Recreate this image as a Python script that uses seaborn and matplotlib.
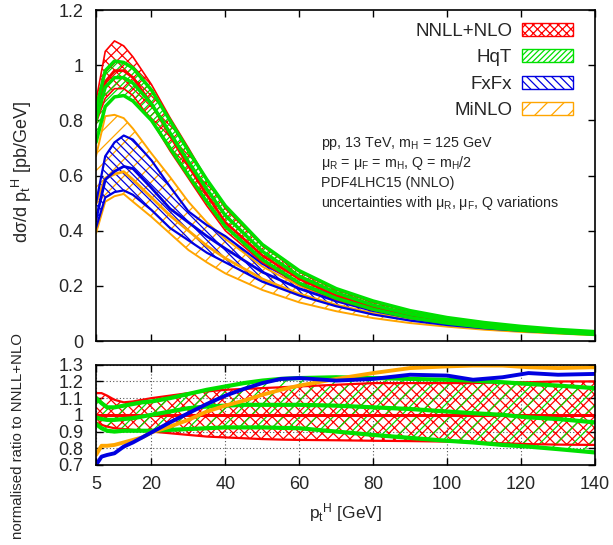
import numpy as np
import pandas as pd
import seaborn as sns
import matplotlib.pyplot as plt
from matplotlib.patches import Patch

# ---- upper panel: d sigma / d pt [pb/GeV] ----
pt_up = [5, 7.5, 10, 12.5, 15, 20, 25, 30, 35, 40, 50, 60, 70, 80, 90, 100, 110, 120, 130, 140]

nnll_c = [0.83, 0.94, 0.98, 0.98, 0.955, 0.86, 0.745, 0.635, 0.53, 0.43, 0.31, 0.225, 0.165, 0.125, 0.095, 0.074, 0.058, 0.046, 0.037, 0.030]
nnll_hi = [0.87, 1.05, 1.088, 1.07, 1.03, 0.93, 0.81, 0.70, 0.585, 0.48, 0.345, 0.25, 0.185, 0.14, 0.106, 0.083, 0.065, 0.052, 0.042, 0.034]
nnll_lo = [0.79, 0.88, 0.915, 0.915, 0.89, 0.80, 0.69, 0.59, 0.49, 0.40, 0.285, 0.205, 0.15, 0.112, 0.085, 0.066, 0.051, 0.040, 0.032, 0.026]

hqt_hi = [0.84, 0.98, 1.015, 1.01, 0.99, 0.91, 0.80, 0.69, 0.585, 0.49, 0.35, 0.255, 0.19, 0.145, 0.11, 0.085, 0.067, 0.053, 0.042, 0.034]
hqt_c = [0.80, 0.92, 0.955, 0.955, 0.935, 0.86, 0.755, 0.65, 0.55, 0.455, 0.325, 0.235, 0.175, 0.13, 0.098, 0.076, 0.059, 0.046, 0.037, 0.029]
hqt_lo = [0.72, 0.85, 0.885, 0.89, 0.87, 0.80, 0.70, 0.60, 0.505, 0.415, 0.295, 0.21, 0.155, 0.115, 0.085, 0.065, 0.05, 0.039, 0.031, 0.024]

fxfx_hi = [0.50, 0.67, 0.72, 0.745, 0.73, 0.655, 0.56, 0.47, 0.42, 0.38, 0.28, 0.21, 0.16, 0.12, 0.092, 0.072, 0.056, 0.045, 0.036, 0.029]
fxfx_c = [0.44, 0.585, 0.615, 0.633, 0.625, 0.555, 0.48, 0.43, 0.38, 0.335, 0.25, 0.19, 0.145, 0.11, 0.085, 0.066, 0.052, 0.042, 0.034, 0.027]
fxfx_lo = [0.41, 0.52, 0.54, 0.546, 0.53, 0.475, 0.41, 0.365, 0.32, 0.285, 0.215, 0.165, 0.126, 0.096, 0.074, 0.058, 0.046, 0.037, 0.030, 0.024]

minlo_hi = [0.67, 0.815, 0.82, 0.808, 0.77, 0.68, 0.595, 0.505, 0.43, 0.37, 0.27, 0.20, 0.15, 0.115, 0.088, 0.069, 0.054, 0.043, 0.034, 0.028]
minlo_c = [0.50, 0.59, 0.605, 0.614, 0.585, 0.52, 0.455, 0.40, 0.345, 0.30, 0.225, 0.17, 0.13, 0.10, 0.078, 0.062, 0.049, 0.039, 0.031, 0.025]
minlo_lo = [0.39, 0.505, 0.525, 0.533, 0.505, 0.45, 0.39, 0.33, 0.285, 0.245, 0.185, 0.14, 0.108, 0.083, 0.065, 0.052, 0.041, 0.033, 0.027, 0.021]

# ---- lower panel: normalised ratio to NNLL+NLO ----
pt_r = [5, 6.5, 8, 10, 12.5, 15, 17.5, 20, 25, 30, 35, 40, 45, 50, 55, 60, 70, 80, 90, 100, 107, 115, 122, 130, 140]

r_nnll_hi = [1.13, 1.13, 1.115, 1.09, 1.075, 1.08, 1.09, 1.10, 1.115, 1.13, 1.14, 1.15, 1.155, 1.16, 1.165, 1.17, 1.18, 1.19, 1.19, 1.19, 1.19, 1.195, 1.195, 1.2, 1.2]
r_nnll_lo = [0.955, 0.94, 0.93, 0.92, 0.915, 0.91, 0.905, 0.9, 0.89, 0.88, 0.87, 0.865, 0.86, 0.855, 0.852, 0.85, 0.848, 0.845, 0.843, 0.84, 0.835, 0.83, 0.825, 0.822, 0.82]
r_hqt_hi = [1.10, 1.07, 1.045, 1.045, 1.055, 1.065, 1.075, 1.08, 1.10, 1.125, 1.15, 1.17, 1.19, 1.205, 1.215, 1.22, 1.225, 1.22, 1.215, 1.21, 1.205, 1.195, 1.185, 1.175, 1.16]
r_hqt_c = [0.985, 0.975, 0.97, 0.97, 0.975, 0.98, 0.99, 1.0, 1.02, 1.04, 1.05, 1.055, 1.06, 1.06, 1.06, 1.06, 1.055, 1.045, 1.035, 1.02, 1.01, 1.0, 0.985, 0.975, 0.955]
r_hqt_lo = [0.945, 0.92, 0.905, 0.90, 0.905, 0.905, 0.905, 0.905, 0.91, 0.915, 0.92, 0.925, 0.925, 0.925, 0.922, 0.92, 0.90, 0.88, 0.862, 0.845, 0.835, 0.82, 0.81, 0.795, 0.775]
r_fxfx = [0.70, 0.75, 0.76, 0.77, 0.81, 0.835, 0.865, 0.895, 0.955, 1.01, 1.065, 1.115, 1.155, 1.19, 1.215, 1.22, 1.205, 1.215, 1.24, 1.235, 1.21, 1.225, 1.25, 1.24, 1.245]
r_minlo = [0.76, 0.815, 0.815, 0.82, 0.835, 0.85, 0.865, 0.895, 0.93, 0.97, 1.02, 1.055, 1.085, 1.12, 1.15, 1.175, 1.215, 1.25, 1.28, 1.29, 1.295, 1.295, 1.285, 1.28, 1.285]

RED, GREEN, BLUE, ORANGE = "#ff0000", "#00e000", "#0000e0", "#ffa500"

sns.set_style("ticks")
plt.rcParams["font.family"] = ["Liberation Sans", "DejaVu Sans"]
plt.rcParams["mathtext.default"] = "regular"
plt.rcParams["hatch.linewidth"] = 0.9

fig = plt.figure(figsize=(6.13, 5.45), dpi=100)
ax = fig.add_axes([0.1566, 0.3743, 0.814, 0.6073])
axr = fig.add_axes([0.1566, 0.1468, 0.814, 0.184])


def band(a, x, lo, hi, color, hatch, lw):
    a.fill_between(x, lo, hi, facecolor="none", edgecolor=color, hatch=hatch, linewidth=0)
    for y in (lo, hi):
        sns.lineplot(x=x, y=y, ax=a, color=color, lw=lw, legend=False)


# upper panel
band(ax, pt_up, minlo_lo, minlo_hi, ORANGE, "//", 1.4)
sns.lineplot(x=pt_up, y=minlo_c, ax=ax, color=ORANGE, lw=2.0)
band(ax, pt_up, fxfx_lo, fxfx_hi, BLUE, "\\\\\\\\", 1.6)
sns.lineplot(x=pt_up, y=fxfx_c, ax=ax, color=BLUE, lw=2.0)
band(ax, pt_up, nnll_lo, nnll_hi, RED, "xxx", 1.2)
sns.lineplot(x=pt_up, y=nnll_c, ax=ax, color=RED, lw=2.0)
band(ax, pt_up, hqt_lo, hqt_hi, GREEN, "/////", 2.5)
sns.lineplot(x=pt_up, y=hqt_c, ax=ax, color=GREEN, lw=2.5)

ax.set_xlim(5, 140)
ax.set_ylim(0, 1.2)
ax.set_xticks([5, 20, 40, 60, 80, 100, 120, 140])
ax.set_xticklabels([])
ax.set_yticks([0, 0.2, 0.4, 0.6, 0.8, 1.0, 1.2])
ax.set_yticklabels(["0", "0.2", "0.4", "0.6", "0.8", "1", "1.2"])
ax.set_xlabel("")
ax.set_ylabel("")

handles = [
    Patch(facecolor="white", edgecolor=RED, hatch="xxxx", label="NNLL+NLO"),
    Patch(facecolor="white", edgecolor=GREEN, hatch="//////", label="HqT"),
    Patch(facecolor="white", edgecolor=BLUE, hatch="\\\\\\\\", label="FxFx"),
    Patch(facecolor="white", edgecolor=ORANGE, hatch="//", label="MiNLO"),
]
ax.legend(handles=handles, loc="upper right", bbox_to_anchor=(0.956, 0.962),
          frameon=False, markerfirst=False, fontsize=13.5, handlelength=2.7,
          handleheight=0.7, handletextpad=0.55, labelspacing=0.5,
          borderpad=0, borderaxespad=0)

info = [
    "pp, 13 TeV, m$_H$ = 125 GeV",
    "μ$_R$ = μ$_F$ = m$_H$, Q = m$_H$/2",
    "PDF4LHC15 (NNLO)",
    "uncertainties with μ$_R$, μ$_F$, Q variations",
]
for i, s in enumerate(info):
    ax.text(0.451, 0.598 - i * 0.06, s, transform=ax.transAxes, fontsize=10.3,
            ha="left", va="center")

# lower panel
axr.grid(True, color="#555555", linestyle=(0, (1, 2)), linewidth=0.8)
axr.set_axisbelow(True)
axr.fill_between(pt_r, r_nnll_lo, r_nnll_hi, facecolor="none", edgecolor=RED,
                 hatch="xxx", linewidth=0)
axr.fill_between(pt_r, r_hqt_lo, r_hqt_hi, facecolor="none", edgecolor=GREEN,
                 hatch="//", linewidth=0)
for y in (r_nnll_lo, r_nnll_hi):
    sns.lineplot(x=pt_r, y=y, ax=axr, color=RED, lw=1.6)
sns.lineplot(x=pt_r, y=[1.0] * len(pt_r), ax=axr, color=RED, lw=2.2)
for y in (r_hqt_lo, r_hqt_c, r_hqt_hi):
    sns.lineplot(x=pt_r, y=y, ax=axr, color=GREEN, lw=3.0)
sns.lineplot(x=pt_r, y=r_minlo, ax=axr, color=ORANGE, lw=2.8)
sns.lineplot(x=pt_r, y=r_fxfx, ax=axr, color=BLUE, lw=2.8)

axr.set_xlim(5, 140)
axr.set_ylim(0.7, 1.3)
axr.set_xticks([5, 20, 40, 60, 80, 100, 120, 140])
axr.set_xticklabels(["5", "20", "40", "60", "80", "100", "120", "140"])
axr.set_yticks([0.7, 0.8, 0.9, 1.0, 1.1, 1.2, 1.3])
axr.set_yticklabels(["0.7", "0.8", "0.9", "1", "1.1", "1.2", "1.3"])
axr.set_xlabel("p$_t$$^H$ [GeV]", fontsize=12.5, labelpad=6)
axr.set_ylabel("")

for a in (ax, axr):
    a.tick_params(direction="in", top=True, right=True, labelsize=13,
                  length=5, width=1, color="black")
    a.tick_params(axis="y", pad=9)
    a.tick_params(axis="x", pad=8)
    for sp in a.spines.values():
        sp.set_visible(True)
        sp.set_linewidth(1.2)
        sp.set_color("black")

fig.text(0.036, 0.684, "dσ/d p$_t$$^H$ [pb/GeV]", rotation=90, fontsize=13,
         ha="center", va="center")
fig.text(0.029, 0.20, "normalised ratio to NNLL+NLO", rotation=90, fontsize=10.8,
         ha="center", va="center")

fig.savefig("out.png", dpi=100)
